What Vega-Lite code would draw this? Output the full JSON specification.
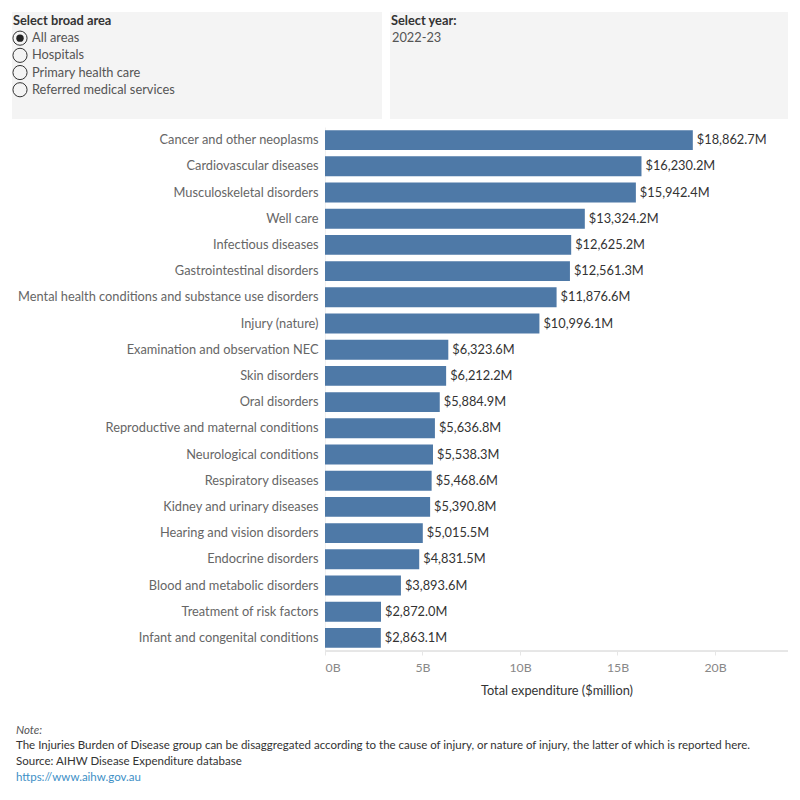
{
  "$schema": "https://vega.github.io/schema/vega-lite/v6.json",
  "padding": {"left": 10, "top": 12, "right": 12, "bottom": 0},
  "background": "white",
  "config": {"font": "Lato", "view": {"stroke": null}},
  "spacing": 8,
  "vconcat": [
    {
      "spacing": 8,
      "hconcat": [
        {
          "width": 370,
          "height": 107,
          "view": {"fill": "#f4f4f4", "stroke": null},
          "data": {"values": [
            {"label": "Select broad area", "row": 0, "kind": "header", "selected": false},
            {"label": "All areas", "row": 1, "kind": "option", "selected": true},
            {"label": "Hospitals", "row": 2, "kind": "option", "selected": false},
            {"label": "Primary health care", "row": 3, "kind": "option", "selected": false},
            {"label": "Referred medical services", "row": 4, "kind": "option", "selected": false}
          ]},
          "encoding": {
            "y": {"field": "row", "type": "quantitative", "scale": {"domain": [-0.52, 5.7], "reverse": true}, "axis": null}
          },
          "layer": [
            {
              "transform": [{"filter": "datum.kind == 'header'"}],
              "mark": {"type": "text", "align": "left", "baseline": "middle", "fontSize": 12.8, "fontWeight": "bold", "color": "#333333", "x": 1},
              "encoding": {"text": {"field": "label"}}
            },
            {
              "transform": [{"filter": "datum.kind == 'option'"}],
              "mark": {"type": "text", "align": "left", "baseline": "middle", "fontSize": 12.8, "color": "#555555", "x": 20},
              "encoding": {"text": {"field": "label"}}
            },
            {
              "transform": [{"filter": "datum.kind == 'option'"}],
              "mark": {"type": "point", "shape": "circle", "size": 200, "filled": false, "stroke": "#333333", "strokeWidth": 1, "opacity": 1, "x": 8}
            },
            {
              "transform": [{"filter": "datum.selected"}],
              "mark": {"type": "point", "shape": "circle", "size": 55, "filled": true, "color": "#222222", "opacity": 1, "x": 8}
            }
          ]
        },
        {
          "width": 398,
          "height": 107,
          "view": {"fill": "#f4f4f4", "stroke": null},
          "data": {"values": [
            {"label": "Select year:", "row": 0, "kind": "header"},
            {"label": "2022-23", "row": 1, "kind": "option"}
          ]},
          "encoding": {
            "y": {"field": "row", "type": "quantitative", "scale": {"domain": [-0.52, 5.7], "reverse": true}, "axis": null}
          },
          "layer": [
            {
              "transform": [{"filter": "datum.kind == 'header'"}],
              "mark": {"type": "text", "align": "left", "baseline": "middle", "fontSize": 12.8, "fontWeight": "bold", "color": "#333333", "x": 1},
              "encoding": {"text": {"field": "label"}}
            },
            {
              "transform": [{"filter": "datum.kind == 'option'"}],
              "mark": {"type": "text", "align": "left", "baseline": "middle", "fontSize": 12.8, "color": "#555555", "x": 2},
              "encoding": {"text": {"field": "label"}}
            }
          ]
        }
      ]
    },
    {
      "width": 776,
      "height": 524,
      "data": {"values": [
        {"category": "Cancer and other neoplasms", "value": 18862.7},
        {"category": "Cardiovascular diseases", "value": 16230.2},
        {"category": "Musculoskeletal disorders", "value": 15942.4},
        {"category": "Well care", "value": 13324.2},
        {"category": "Infectious diseases", "value": 12625.2},
        {"category": "Gastrointestinal disorders", "value": 12561.3},
        {"category": "Mental health conditions and substance use disorders", "value": 11876.6},
        {"category": "Injury (nature)", "value": 10996.1},
        {"category": "Examination and observation NEC", "value": 6323.6},
        {"category": "Skin disorders", "value": 6212.2},
        {"category": "Oral disorders", "value": 5884.9},
        {"category": "Reproductive and maternal conditions", "value": 5636.8},
        {"category": "Neurological conditions", "value": 5538.3},
        {"category": "Respiratory diseases", "value": 5468.6},
        {"category": "Kidney and urinary diseases", "value": 5390.8},
        {"category": "Hearing and vision disorders", "value": 5015.5},
        {"category": "Endocrine disorders", "value": 4831.5},
        {"category": "Blood and metabolic disorders", "value": 3893.6},
        {"category": "Treatment of risk factors", "value": 2872.0},
        {"category": "Infant and congenital conditions", "value": 2863.1}
      ]},
      "transform": [{"calculate": "'$' + format(datum.value, ',.1f') + 'M'", "as": "label"}],
      "encoding": {
        "y": {
          "field": "category", "type": "nominal", "sort": null,
          "scale": {"paddingInner": 0.24, "paddingOuter": 0.12},
          "axis": {"title": null, "ticks": false, "offset": -313, "labelPadding": 7, "labelFontSize": 12.8, "labelColor": "#666666", "domainColor": "#f0f0f0", "minExtent": 0, "labelLimit": 330}
        },
        "x": {
          "field": "value", "type": "quantitative",
          "scale": {"domain": [0, 23744], "nice": false, "range": [313, 776]},
          "axis": {
            "values": [0, 5000, 10000, 15000, 20000],
            "labelExpr": "datum.value / 1000 + 'B'",
            "labelFlush": true, "grid": false, "domain": false,
            "title": "Total expenditure ($million)",
            "titleFontWeight": "normal", "titleColor": "#333333", "titleFontSize": 12.8,
            "labelColor": "#888888", "labelFontSize": 12.3,
            "tickColor": "#e6e6e6", "tickSize": 4,
            "labelPadding": 6, "titlePadding": 11
          }
        }
      },
      "layer": [
        {"mark": {"type": "bar", "color": "#4e79a7"}},
        {"mark": {"type": "text", "align": "left", "baseline": "middle", "dx": 4, "fontSize": 12.8, "color": "#333333"}, "encoding": {"text": {"field": "label"}}},
        {"mark": {"type": "rule", "color": "#e6e6e6", "strokeWidth": 1}, "encoding": {"x": {"datum": 0}, "x2": {"datum": 23744}, "y": {"value": 524}}}
      ]
    },
    {
      "width": 776,
      "height": 80,
      "data": {"values": [
        {"line": "Note:", "row": 0, "kind": "note"},
        {"line": "The Injuries Burden of Disease group can be disaggregated according to the cause of injury, or nature of injury, the latter of which is reported here.", "row": 1, "kind": "body"},
        {"line": "Source: AIHW Disease Expenditure database", "row": 2, "kind": "body"},
        {"line": "https://www.aihw.gov.au", "row": 3, "kind": "link"}
      ]},
      "encoding": {
        "y": {"field": "row", "type": "quantitative", "scale": {"domain": [-1.55, 3.51], "reverse": true}, "axis": null},
        "text": {"field": "line"}
      },
      "layer": [
        {"transform": [{"filter": "datum.kind == 'note'"}], "mark": {"type": "text", "align": "left", "baseline": "middle", "fontSize": 11.5, "fontStyle": "italic", "color": "#555555", "x": 4}},
        {"transform": [{"filter": "datum.kind == 'body'"}], "mark": {"type": "text", "align": "left", "baseline": "middle", "fontSize": 11.5, "color": "#333333", "x": 4}},
        {"transform": [{"filter": "datum.kind == 'link'"}], "mark": {"type": "text", "align": "left", "baseline": "middle", "fontSize": 11.5, "color": "#3d8fc6", "x": 4}}
      ]
    }
  ]
}
